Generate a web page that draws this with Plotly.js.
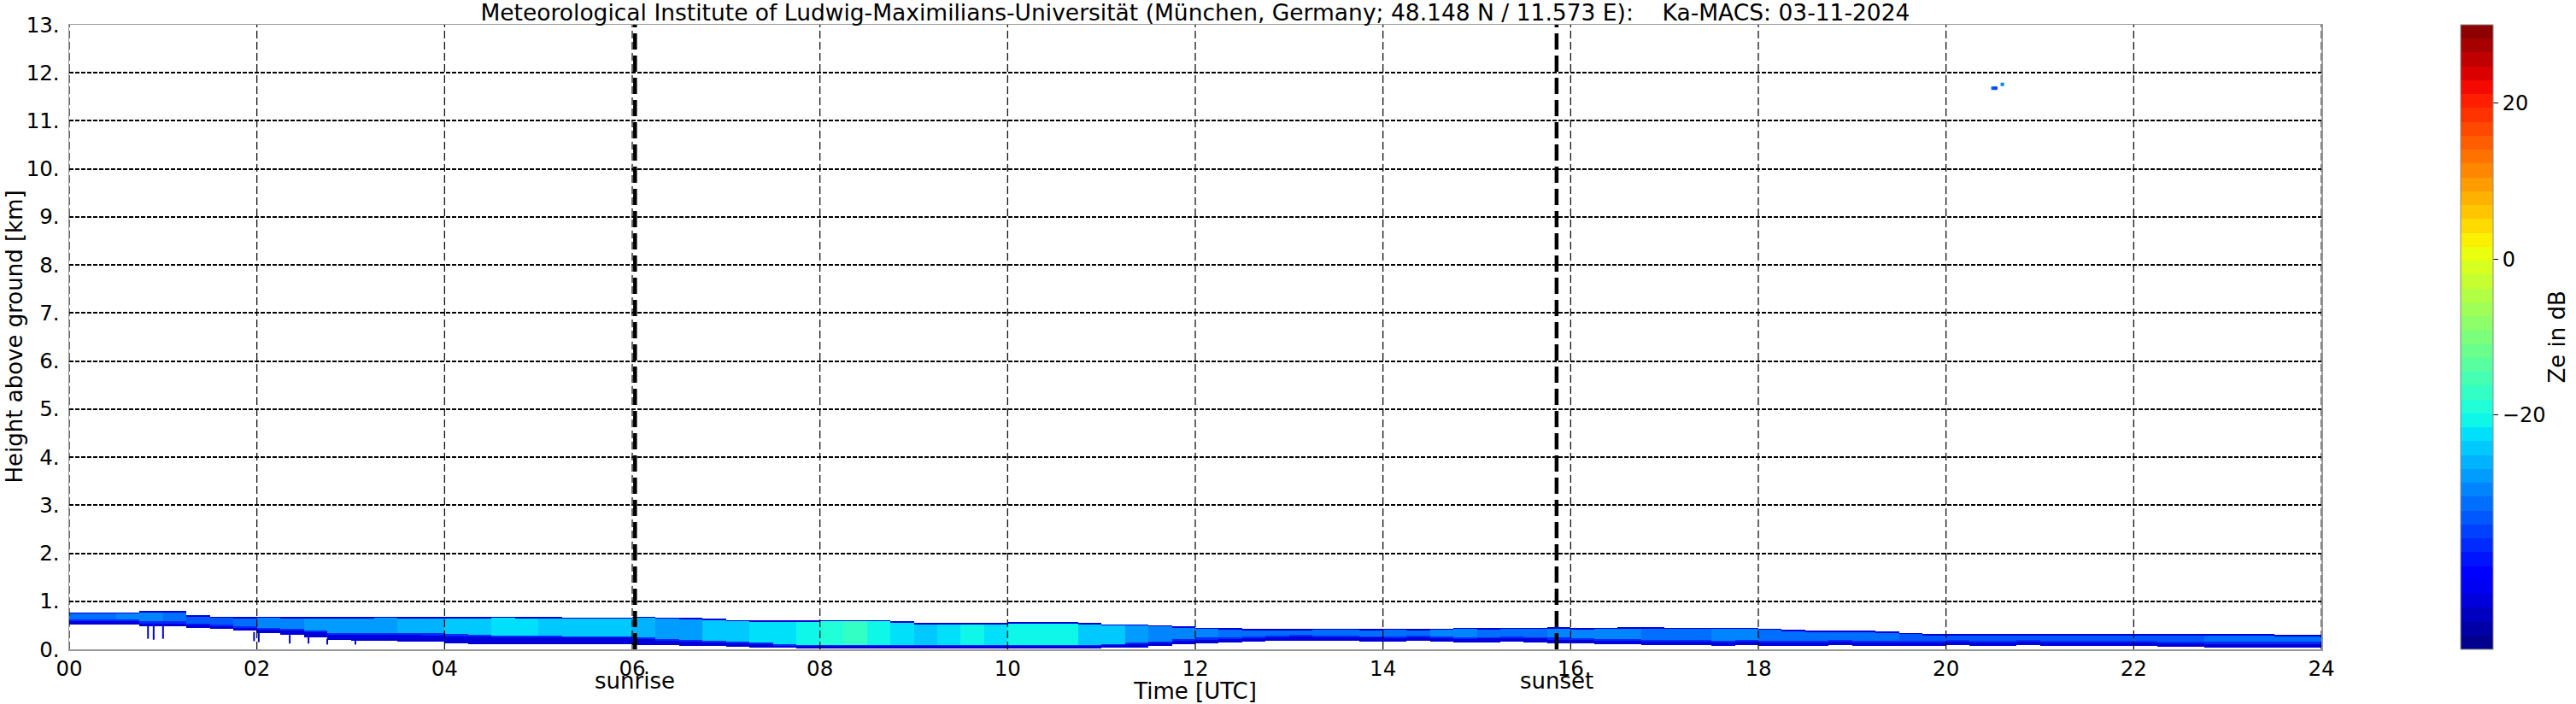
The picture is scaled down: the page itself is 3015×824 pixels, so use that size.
<!DOCTYPE html>
<html>
<head>
<meta charset="utf-8">
<script src="https://cdn.plot.ly/plotly-3.0.1.min.js"></script>
<style>html,body{margin:0;padding:0;background:#fff;}#chart{width:3015px;height:824px;}</style>
</head>
<body>
<div id="chart"></div>
<script>
// ---- time bins (hours UTC, bin centres, 15-min bins) ----
const timeCenters = [
  0.125,0.375,0.625,0.875, 1.125,1.375,1.625,1.875, 2.125,2.375,2.625,2.875, 3.125,3.375,3.625,3.875,
  4.125,4.375,4.625,4.875, 5.125,5.375,5.625,5.875, 6.125,6.375,6.625,6.875, 7.125,7.375,7.625,7.875,
  8.125,8.375,8.625,8.875, 9.125,9.375,9.625,9.875, 10.125,10.375,10.625,10.875, 11.125,11.375,11.625,11.875,
  12.125,12.375,12.625,12.875, 13.125,13.375,13.625,13.875, 14.125,14.375,14.625,14.875, 15.125,15.375,15.625,15.875,
  16.125,16.375,16.625,16.875, 17.125,17.375,17.625,17.875, 18.125,18.375,18.625,18.875, 19.125,19.375,19.625,19.875,
  20.125,20.375,20.625,20.875, 21.125,21.375,21.625,21.875, 22.125,22.375,22.625,22.875, 23.125,23.375,23.625,23.875
];
// ---- echo top height (km) ----
const bandTop = [
  0.77,0.77,0.77,0.80, 0.80,0.71,0.68,0.67, 0.68,0.67,0.67,0.67, 0.67,0.68,0.67,0.67,
  0.67,0.67,0.68,0.67, 0.67,0.66,0.66,0.66, 0.68,0.66,0.65,0.64, 0.61,0.60,0.60,0.60,
  0.61,0.61,0.61,0.58, 0.55,0.55,0.55,0.55, 0.57,0.56,0.56,0.55, 0.52,0.52,0.50,0.47,
  0.45,0.44,0.42,0.42, 0.42,0.43,0.43,0.42, 0.43,0.42,0.43,0.45, 0.44,0.45,0.45,0.46,
  0.44,0.45,0.46,0.46, 0.45,0.45,0.45,0.45, 0.43,0.40,0.38,0.38, 0.38,0.37,0.34,0.32,
  0.31,0.31,0.32,0.32, 0.32,0.32,0.32,0.32, 0.32,0.32,0.31,0.31, 0.31,0.31,0.30,0.30
];
// ---- echo base height (km) ----
const bandBase = [
  0.52,0.52,0.52,0.48, 0.48,0.45,0.42,0.38, 0.33,0.30,0.25,0.20, 0.18,0.17,0.16,0.15,
  0.12,0.11,0.10,0.10, 0.10,0.10,0.10,0.10, 0.09,0.08,0.07,0.06, 0.05,0.04,0.03,0.02,
  0.02,0.02,0.02,0.02, 0.02,0.02,0.02,0.02, 0.02,0.02,0.02,0.02, 0.03,0.04,0.06,0.10,
  0.12,0.13,0.15,0.17, 0.18,0.17,0.17,0.16, 0.15,0.17,0.15,0.13, 0.14,0.15,0.14,0.12,
  0.12,0.11,0.10,0.09, 0.08,0.08,0.07,0.08, 0.07,0.07,0.07,0.08, 0.07,0.07,0.07,0.07,
  0.08,0.07,0.07,0.08, 0.07,0.07,0.07,0.07, 0.07,0.05,0.05,0.04, 0.04,0.04,0.04,0.04
];
// ---- thickness of the weak (dark-blue) layer above the echo base (km) ----
const baseFringe = [
  0.06,0.06,0.06,0.06, 0.06,0.06,0.06,0.06, 0.08,0.08,0.10,0.10, 0.12,0.13,0.14,0.14,
  0.15,0.15,0.15,0.15, 0.15,0.14,0.14,0.14, 0.12,0.10,0.09,0.08, 0.07,0.06,0.04,0.04,
  0.04,0.04,0.04,0.04, 0.04,0.04,0.04,0.04, 0.04,0.04,0.04,0.04, 0.05,0.06,0.07,0.08,
  0.08,0.08,0.08,0.08, 0.08,0.08,0.08,0.08, 0.08,0.08,0.08,0.08, 0.08,0.08,0.08,0.08,
  0.07,0.07,0.07,0.07, 0.07,0.07,0.07,0.07, 0.07,0.07,0.07,0.07, 0.07,0.07,0.07,0.07,
  0.07,0.07,0.07,0.07, 0.07,0.07,0.07,0.07, 0.07,0.07,0.07,0.07, 0.07,0.07,0.07,0.07
];
// ---- core reflectivity (dB) ----
const coreZe = [
  -31,-31,-30,-30, -31,-33,-33,-32, -30,-29,-28,-28, -27,-27,-26,-26,
  -24,-24,-23,-23, -24,-24,-25,-25, -26,-27,-27,-25, -24,-23,-22,-21,
  -19,-18,-20,-23, -24,-22,-21,-22, -21,-20,-21,-24, -25,-27,-29,-30,
  -30,-31,-31,-31, -31,-31,-31,-31, -31,-31,-30,-30, -31,-31,-31,-30,
  -30,-30,-30,-31, -31,-31,-30,-30, -31,-32,-32,-32, -32,-32,-33,-33,
  -33,-33,-33,-33, -33,-33,-33,-33, -33,-33,-33,-32, -32,-32,-31,-31
];
const edgeZe = -43;      // dark-blue fringe at cloud top / base
const transZe = -37;     // transition layer above the base fringe
// ---- hanging streaks below the band ----
const streakTime   = [0.84, 0.90, 1.00, 1.97, 2.02, 2.35, 2.55, 2.75, 3.05];
const streakTopKm  = [0.50, 0.50, 0.48, 0.36, 0.34, 0.30, 0.28, 0.22, 0.18];
const streakBaseKm = [0.22, 0.20, 0.22, 0.17, 0.15, 0.12, 0.12, 0.10, 0.10];
// ---- isolated echoes aloft ----
const blipTime = [20.50, 20.53, 20.60];
const blipKm   = [11.68, 11.68, 11.76];
const blipZe   = [-34, -35, -30];
// ---- annotations / ticks ----
const sunriseH = 6.03;
const sunsetH  = 15.85;
const xTickVals = [0,2,4,6,8,10,12,14,16,18,20,22,24];
const xTickText = ['00','02','04','06','08','10','12','14','16','18','20','22','24'];
const yTickVals = [0,1,2,3,4,5,6,7,8,9,10,11,12,13];
const yTickText = ['0.','1.','2.','3.','4.','5.','6.','7.','8.','9.','10.','11.','12.','13.'];
const cbTickVals = [-20, 0, 20];

// height rows of the range-gate grid (km)
const heightRows = [];
for (let k = 0; k < 100; k++) heightRows.push(+(0.005 + 0.01 * k).toFixed(3));
const TOP_EDGE = 0.03, TRANS = 0.035;
const zGrid = heightRows.map(h => timeCenters.map((t, i) => {
  if (h < bandBase[i] || h > bandTop[i]) return null;
  if (h > bandTop[i] - TOP_EDGE) return edgeZe;
  if (h < bandBase[i] + baseFringe[i]) return edgeZe;
  if (h < bandBase[i] + baseFringe[i] + TRANS) return transZe;
  return coreZe[i];
}));

// matplotlib "jet", discretised into levels like the reference colour bar
const jetStops = [
  [0.00,[0,0,128]],[0.11,[0,0,255]],[0.125,[0,0,255]],
  [0.34,[0,219,255]],[0.35,[0,230,247]],[0.375,[21,255,226]],
  [0.64,[239,255,8]],[0.65,[247,245,0]],[0.66,[255,236,0]],
  [0.89,[255,19,0]],[0.91,[232,0,0]],[1.00,[128,0,0]]
];
function jetAt(f) {
  for (let k = 1; k < jetStops.length; k++) {
    const [f1, c1] = jetStops[k], [f0, c0] = jetStops[k - 1];
    if (f <= f1) {
      const w = (f - f0) / (f1 - f0);
      return 'rgb(' + c0.map((v, j) => Math.round(v + w * (c1[j] - v))).join(',') + ')';
    }
  }
  return 'rgb(128,0,0)';
}
const N_LEVELS = 45;
const jetDiscrete = [];
for (let k = 0; k < N_LEVELS; k++) {
  const c = jetAt((k + 0.5) / N_LEVELS);
  jetDiscrete.push([k / N_LEVELS, c], [(k + 1) / N_LEVELS, c]);
}

// streak line segments
const sx = [], sy = [];
streakTime.forEach((t, i) => { sx.push(t, t, null); sy.push(streakBaseKm[i], streakTopKm[i], null); });

const FONT = 'DejaVu Sans';
const traces = [
  { type: 'heatmap', x: timeCenters, y: heightRows, z: zGrid, coloraxis: 'coloraxis',
    zsmooth: false, hoverongaps: false },
  { type: 'scatter', mode: 'lines', x: sx, y: sy, line: { color: 'rgb(0,0,205)', width: 2 },
    showlegend: false, hoverinfo: 'skip' },
  { type: 'scatter', mode: 'markers', x: blipTime, y: blipKm,
    marker: { symbol: 'square', size: 4, color: blipZe, coloraxis: 'coloraxis', line: { width: 0 } },
    showlegend: false }
];

const shapes = [];
xTickVals.forEach(v => shapes.push({ type: 'line', xref: 'x', yref: 'paper', x0: v, x1: v, y0: 0, y1: 1,
  layer: 'above', line: { color: 'black', width: 1.2, dash: '9px,4px' } }));
[sunriseH, sunsetH].forEach(v => shapes.push({ type: 'line', xref: 'x', yref: 'paper', x0: v, x1: v, y0: 0, y1: 1,
  layer: 'above', line: { color: 'black', width: 4.5, dash: '19px,7px' } }));

const layout = {
  width: 3015, height: 824,
  margin: { l: 81, r: 298, t: 29, b: 64 },
  paper_bgcolor: 'white', plot_bgcolor: 'white',
  font: { family: FONT, color: 'black', size: 24 },
  showlegend: false,
  title: { text: 'Meteorological Institute of Ludwig-Maximilians-Universität (München, Germany; 48.148 N / 11.573 E):\u00a0\u00a0\u00a0\u00a0Ka-MACS: 03-11-2024',
    font: { family: FONT, size: 26.5, color: 'black' }, x: 0.464, xanchor: 'center', xref: 'container',
    y: 0.982, yref: 'container', yanchor: 'middle' },
  xaxis: { range: [0, 24], tickvals: xTickVals, ticktext: xTickText, showgrid: false, zeroline: false,
    showline: true, mirror: true, linecolor: '#9a9a9a', linewidth: 1.5, ticks: '', ticklabelstandoff: 0,
    tickfont: { family: FONT, size: 24.5, color: 'black' }, automargin: false,
    title: { text: 'Time [UTC]', font: { family: FONT, size: 26, color: 'black' }, standoff: 0 } },
  yaxis: { range: [0, 13], tickvals: yTickVals, ticktext: yTickText, showgrid: true, gridcolor: 'black',
    gridwidth: 2, griddash: '5px,2px', zeroline: false,
    showline: true, mirror: true, linecolor: '#9a9a9a', linewidth: 1.5, ticks: '', ticklabelstandoff: 5,
    tickfont: { family: FONT, size: 24.5, color: 'black' }, automargin: false },
  coloraxis: { cmin: -50, cmax: 30, colorscale: jetDiscrete,
    colorbar: { thickness: 38, thicknessmode: 'pixels', len: 1, lenmode: 'fraction',
      x: 1.0618, xanchor: 'left', xref: 'paper', y: 0.5, yanchor: 'middle', yref: 'paper', xpad: 0, ypad: 0,
      outlinecolor: '#8a8a8a', outlinewidth: 1, tickvals: cbTickVals, ticks: 'outside', ticklen: 6,
      tickcolor: 'black', tickfont: { family: FONT, size: 24, color: 'black' } } },
  shapes: shapes,
  annotations: [
    { text: 'Height above ground [km]', textangle: -90, x: 0, xref: 'paper', xanchor: 'center', xshift: -65,
      y: 0.5, yref: 'paper', yanchor: 'middle', showarrow: false,
      font: { family: FONT, size: 26, color: 'black' } },
    { text: 'Ze in dB', textangle: -90, x: 1, xref: 'paper', xanchor: 'center', xshift: 275,
      y: 0.5, yref: 'paper', yanchor: 'middle', yshift: 0, showarrow: false,
      font: { family: FONT, size: 26, color: 'black' } },
    { text: 'sunrise', x: sunriseH, xref: 'x', y: 0, yref: 'paper', yanchor: 'top', yshift: -20,
      showarrow: false, font: { family: FONT, size: 26, color: 'black' } },
    { text: 'sunset', x: sunsetH, xref: 'x', y: 0, yref: 'paper', yanchor: 'top', yshift: -20,
      showarrow: false, font: { family: FONT, size: 26, color: 'black' } }
  ]
};

Plotly.newPlot('chart', traces, layout, { displayModeBar: false, staticPlot: true });
</script>
</body>
</html>
